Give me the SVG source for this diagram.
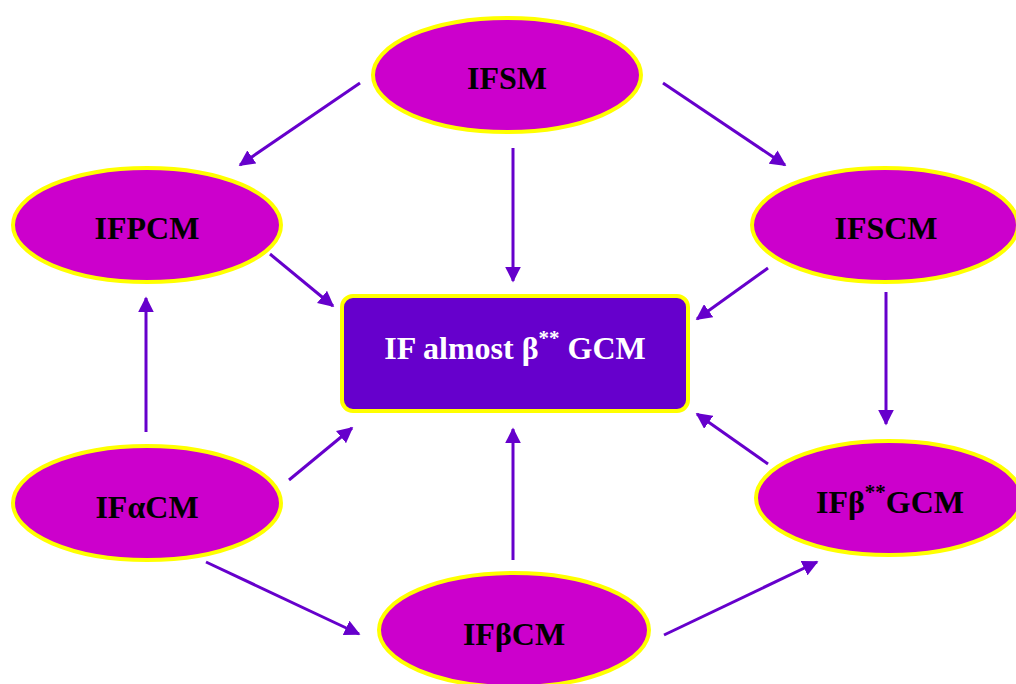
<svg xmlns="http://www.w3.org/2000/svg" width="1016" height="684" viewBox="0 0 1016 684">
<style>
.n{fill:#CC00CC;stroke:#FFFF00;stroke-width:4}
.t{font-family:"Liberation Serif","Times New Roman",serif;font-weight:bold;font-size:32px;fill:#000;text-anchor:middle}
.c{stroke:#6600CC;stroke-width:3;fill:none;marker-end:url(#a)}
</style>
<defs>
<marker id="a" viewBox="0 0 10 10" refX="9" refY="5" markerWidth="5.3" markerHeight="5.3" orient="auto" markerUnits="strokeWidth">
<path d="M0,0 L10,5 L0,10 z" fill="#6600CC"/>
</marker>
</defs>
<rect width="1016" height="684" fill="#fff"/>
<g id="connectors">
<line class="c" x1="360" y1="83" x2="240" y2="165"/>
<line class="c" x1="513" y1="148" x2="513" y2="281"/>
<line class="c" x1="663" y1="83" x2="785" y2="165"/>
<line class="c" x1="270" y1="254" x2="333" y2="306"/>
<line class="c" x1="768" y1="268" x2="697" y2="319"/>
<line class="c" x1="886" y1="292" x2="886" y2="424"/>
<line class="c" x1="146" y1="432" x2="146" y2="298"/>
<line class="c" x1="289" y1="480" x2="352" y2="428"/>
<line class="c" x1="513" y1="560" x2="513" y2="429"/>
<line class="c" x1="768" y1="464" x2="697" y2="414"/>
<line class="c" x1="206" y1="562" x2="359" y2="634"/>
<line class="c" x1="664" y1="635" x2="817" y2="562"/>
</g>
<g id="IFSM"><ellipse class="n" cx="507" cy="75" rx="134" ry="57"/><text class="t" x="507" y="89">IFSM</text></g>
<g id="IFPCM"><ellipse class="n" cx="147" cy="225" rx="134" ry="57"/><text class="t" x="147" y="239">IFPCM</text></g>
<g id="IFSCM"><ellipse class="n" cx="885" cy="225" rx="133" ry="57"/><text class="t" x="886" y="239">IFSCM</text></g>
<g id="IFaCM"><ellipse class="n" cx="147" cy="503" rx="134" ry="57"/><text class="t" x="147" y="518">IFαCM</text></g>
<g id="IFbCM"><ellipse class="n" cx="514" cy="630" rx="135" ry="57"/><text class="t" x="514" y="645">IFβCM</text></g>
<g id="IFbGCM"><ellipse class="n" cx="889" cy="498" rx="133" ry="57"/><text class="t" x="890" y="513">IFβ<tspan font-size="21" dy="-14">**</tspan><tspan dy="14">GCM</tspan></text></g>
<g id="center"><rect x="342" y="296" width="346" height="115" rx="11" fill="#6600CC" stroke="#FFFF00" stroke-width="4"/><text class="t" x="515" y="359" style="fill:#fff">IF almost β<tspan font-size="21" dy="-14">**</tspan><tspan dy="14"> GCM</tspan></text></g>
</svg>
